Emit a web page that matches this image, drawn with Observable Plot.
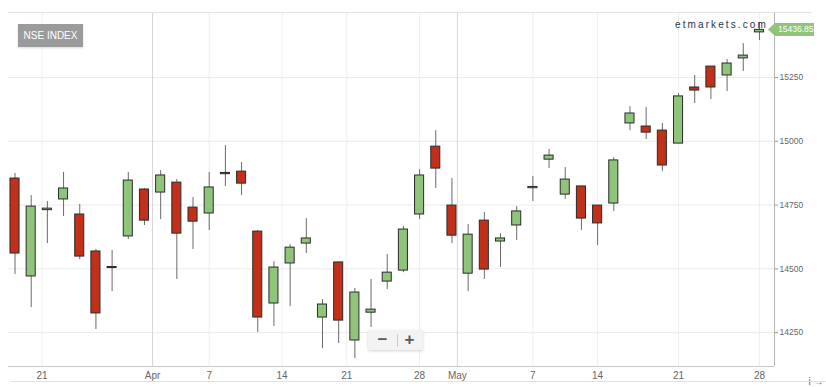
<!DOCTYPE html>
<html><head><meta charset="utf-8">
<script src="https://cdn.jsdelivr.net/npm/d3@7"></script>
<script src="https://cdn.jsdelivr.net/npm/@observablehq/plot@0.6"></script>
<style>
body{margin:0;background:#fff;font-family:"Liberation Sans",Arial,sans-serif;}
#wrap{position:relative;width:826px;height:387px;overflow:hidden;background:#fff;}
#wrap svg{position:absolute;left:0;top:0;}
.badge{position:absolute;left:18px;top:24px;width:65px;height:23px;background:#9b9b9b;color:#fff;font-size:10px;line-height:23px;text-align:center;box-shadow:0 1px 2px rgba(0,0,0,0.15);}
.brand{position:absolute;left:675px;top:19px;font-size:10px;line-height:12px;letter-spacing:2.1px;color:#22364a;}
.zoom{position:absolute;left:368px;top:330px;width:55px;height:20px;background:#f3f3f3;border-radius:2px;box-shadow:0 1px 3px rgba(0,0,0,0.18);}
.zoom span{position:absolute;top:0;width:27px;height:20px;line-height:19px;text-align:center;font-size:17px;font-weight:bold;color:#5a5a5a;}
.zoom i{position:absolute;left:29px;top:4px;width:1px;height:13px;background:#ccc;}
</style></head>
<body><div id="wrap"></div>
<script>
// Trading days (NSE), Mar 18 – May 28, 2021
const dates = ["2021-03-18","2021-03-19","2021-03-22","2021-03-23","2021-03-24","2021-03-25","2021-03-26","2021-03-30","2021-03-31",
"2021-04-01","2021-04-05","2021-04-06","2021-04-07","2021-04-08","2021-04-09","2021-04-12","2021-04-13","2021-04-15","2021-04-16",
"2021-04-19","2021-04-20","2021-04-22","2021-04-23","2021-04-26","2021-04-27","2021-04-28","2021-04-29","2021-04-30",
"2021-05-03","2021-05-04","2021-05-05","2021-05-06","2021-05-07","2021-05-10","2021-05-11","2021-05-12","2021-05-14",
"2021-05-17","2021-05-18","2021-05-19","2021-05-20","2021-05-21","2021-05-24","2021-05-25","2021-05-26","2021-05-27","2021-05-28"];
const open  = [14854,14470,14730,14772,14713,14568,14503,14627,14811,14799,14838,14740,14717,14876,14881,14646,14364,14521,14599,
14309,14525,14219,14328,14450,14493,14713,14979,14748,14481,14689,14607,14670,14816,14928,14791,14823,14748,14756,15070,15058,15042,14991,15211,15293,15258,15325,15427];
const high  = [14874,14787,14764,14878,14752,14576,14572,14878,14815,14885,14850,14779,14878,14983,14917,14650,14528,14595,14697,
14379,14525,14423,14458,14556,14666,14889,15042,14854,14674,14721,14638,14744,14862,14968,14897,14823,14748,14936,15136,15132,15070,15187,15258,15293,15321,15383,15466];
const low   = [14478,14348,14599,14705,14536,14262,14411,14615,14670,14693,14458,14576,14650,14823,14787,14250,14274,14352,14560,
14187,14207,14148,14270,14419,14485,14693,14815,14599,14411,14458,14505,14611,14764,14893,14772,14650,14591,14725,15042,15007,14881,14991,15148,15164,15195,15274,15395];
const close = [14560,14744,14736,14815,14548,14325,14507,14846,14689,14866,14638,14685,14819,14871,14834,14309,14505,14583,14619,
14360,14297,14407,14340,14485,14654,14866,14893,14630,14634,14497,14619,14725,14821,14944,14850,14697,14678,14925,15109,15034,14905,15176,15199,15211,15305,15336,15436.85];

const yTicks = [14250,14500,14750,15000,15250];
const xTickDates  = ["2021-03-21","2021-03-31T12:00Z","2021-04-07","2021-04-14","2021-04-21","2021-04-28","2021-05-01","2021-05-07","2021-05-14","2021-05-21","2021-05-28"];
const xTickLabels = ["21","Apr","7","14","21","28","May","7","14","21","28"];
const monthTick   = [false,true,false,false,false,false,true,false,false,false,false];
const title = "NSE INDEX";
const brand = "etmarkets.com";

const GREEN = "#8fc47a", RED = "#c2301a";

const data = dates.map((d, i) => ({i, t: new Date(d).getTime(), open: open[i], high: high[i], low: low[i], close: close[i]}));
const ts = data.map(d => d.t);
function ordinalPos(s) {
  const t = new Date(s).getTime();
  for (let k = 0; k < ts.length - 1; k++) {
    if (t >= ts[k] && t < ts[k + 1]) return k + (t - ts[k]) / (ts[k + 1] - ts[k]);
  }
  return ts.length - 1;
}
const xTicks = xTickDates.map(ordinalPos);
const labelOf = new Map(xTicks.map((p, k) => [p, xTickLabels[k]]));

const bodyTop = d => Math.max(d.open, d.close);
const bodyBot = d => Math.min(d.open, d.close) === Math.max(d.open, d.close) ? Math.min(d.open, d.close) - 3 : Math.min(d.open, d.close);
const half = 0.28;
const xDomain = [-0.402, 46.93];
const yDomain = [14117, 15505];

const chart = Plot.plot({
  width: 826, height: 387,
  marginTop: 12, marginBottom: 21, marginLeft: 8, marginRight: 52,
  style: {fontFamily: '"Liberation Sans", Arial, sans-serif', background: "transparent"},
  x: {type: "linear", domain: xDomain, axis: null},
  y: {type: "linear", domain: yDomain, axis: null},
  marks: [
    Plot.gridY(yTicks, {stroke: "#ececec", strokeOpacity: 1}),
    Plot.gridX(xTicks.filter((p, k) => !monthTick[k]), {stroke: "#efefef", strokeOpacity: 1}),
    Plot.gridX(xTicks.filter((p, k) => monthTick[k]), {stroke: "#d6d6d6", strokeOpacity: 1}),
    Plot.ruleY([yDomain[1]], {stroke: "#e2e2e2"}),
    Plot.ruleY([yDomain[0]], {stroke: "#c8c8c8"}),
    Plot.ruleX([xDomain[1]], {stroke: "#b4b4b4"}),
    Plot.axisY(yTicks, {anchor: "right", tickSize: 3, tickPadding: 2, fontSize: 8.5, fill: "#666", stroke: "#999", tickFormat: d => String(d)}),
    Plot.axisX(xTicks, {anchor: "bottom", tickSize: 0, tickPadding: 5, fontSize: 10, fill: "#666", tickFormat: p => labelOf.get(p)}),
    Plot.ruleX(data, {x: "i", y1: "low", y2: "high", stroke: "#6a6a6a", strokeWidth: 1}),
    Plot.rect(data.filter(d => d.close >= d.open), {x1: d => d.i - half, x2: d => d.i + half, y1: bodyBot, y2: bodyTop, fill: GREEN, stroke: "#2b2b2b", strokeWidth: 1}),
    Plot.rect(data.filter(d => d.close < d.open), {x1: d => d.i - half, x2: d => d.i + half, y1: bodyBot, y2: bodyTop, fill: RED, stroke: "#2b2b2b", strokeWidth: 1})
  ]
});

const wrap = document.getElementById("wrap");
wrap.appendChild(chart);

// Last price tag on the right axis, positioned by the y scale
const last = close[close.length - 1];
const yy = chart.scale("y").apply(last);
const xr = chart.scale("x").apply(xDomain[1]);
const svg = d3.select(chart);
svg.append("line").attr("x1", xr).attr("x2", 812).attr("y1", 12.5).attr("y2", 12.5).attr("stroke", "#e2e2e2");
svg.append("line").attr("x1", 11).attr("x2", 826).attr("y1", 381.5).attr("y2", 381.5).attr("stroke", "#e0e0e0");
const h = 6.5;
svg.append("path")
  .attr("d", `M${xr - 6},${yy} L${xr + 1},${yy - h} L${xr + 40},${yy - h} L${xr + 40},${yy + h} L${xr + 1},${yy + h} Z`)
  .attr("fill", GREEN);
svg.append("text").attr("x", xr + 4).attr("y", yy).attr("dy", "0.35em")
  .attr("text-anchor", "start")
  .attr("font-family", '"Liberation Sans", Arial, sans-serif')
  .attr("fill", "#ffffff").attr("font-size", 8.5).text(last.toFixed(2));

const badge = document.createElement("div");
badge.className = "badge"; badge.textContent = title; wrap.appendChild(badge);
const br = document.createElement("div");
br.className = "brand"; br.textContent = brand; wrap.appendChild(br);
const z = document.createElement("div");
z.className = "zoom";
z.innerHTML = '<span style="left:1px">\u2212</span><i></i><span style="left:28px">+</span>';
wrap.appendChild(z);
</script>
</body></html>
